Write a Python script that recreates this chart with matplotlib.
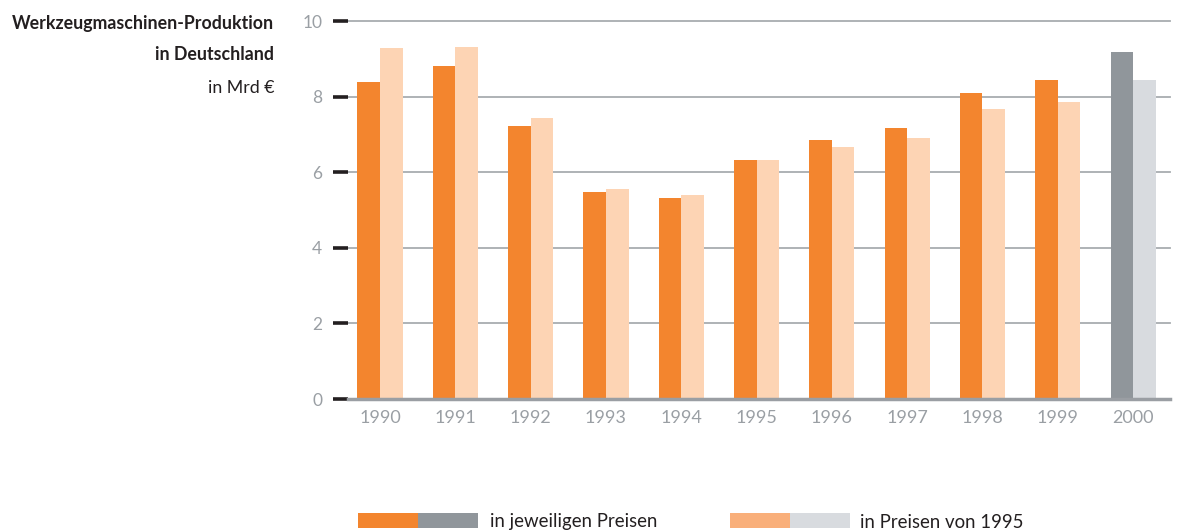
import matplotlib
matplotlib.use("Agg")
import matplotlib.pyplot as plt
from matplotlib.patches import Rectangle
import numpy as np

years = ["1990", "1991", "1992", "1993", "1994", "1995", "1996", "1997", "1998", "1999", "2000"]
current_prices = [8.39, 8.81, 7.22, 5.48, 5.32, 6.32, 6.85, 7.17, 8.10, 8.44, 9.18]
prices_1995 = [9.29, 9.31, 7.43, 5.56, 5.40, 6.32, 6.67, 6.90, 7.67, 7.86, 8.44]
y_ticks = [0, 2, 4, 6, 8, 10]

ORANGE = "#f3852e"
LIGHT_ORANGE = "#fdd4b4"
GRAY = "#90969b"
LIGHT_GRAY = "#d8dbdf"
LEG_LIGHT_ORANGE = "#f9af7a"
TEXT = "#231f20"
TICK_GRAY = "#9a9fa4"

plt.rcParams['font.family'] = ['Lato', 'DejaVu Sans']

W, H = 1182, 530
fig = plt.figure(figsize=(W / 100, H / 100), dpi=100)
ax = fig.add_axes([348 / W, 1 - 399 / H, (1170 - 348) / W, (399 - 21) / H])

x = np.arange(len(years))
bw = 0.30
c1 = [ORANGE] * (len(years) - 1) + [GRAY]
c2 = [LIGHT_ORANGE] * (len(years) - 1) + [LIGHT_GRAY]
ax.bar(x - bw / 2, current_prices, width=bw, color=c1, zorder=3)
ax.bar(x + bw / 2, prices_1995, width=bw, color=c2, zorder=3)

ax.set_xlim(-0.425, 10.49)
ax.set_ylim(0, 10)

for t in y_ticks[1:]:
    ax.axhline(t, color="#a8acb0", lw=1.3, zorder=1, clip_on=False)
ax.axhline(0, color="#9a9ea3", lw=2.5, zorder=4, clip_on=False)

for s in ax.spines.values():
    s.set_visible(False)

ax.set_yticks(y_ticks)
ax.set_yticklabels([str(t) for t in y_ticks])
ax.tick_params(axis='y', length=10.5, width=2.6, color=TEXT, pad=8,
               labelsize=12.5, labelcolor=TICK_GRAY)
ax.set_xticks(x)
ax.set_xticklabels(years)
ax.tick_params(axis='x', length=0, pad=8, labelsize=13, labelcolor=TICK_GRAY)

# Title block
fig.text(274 / W, 1 - 23 / H, "Werkzeugmaschinen-Produktion", ha="right", va="center",
         fontsize=12.8, fontweight="bold", color=TEXT)
fig.text(274 / W, 1 - 55 / H, "in Deutschland", ha="right", va="center",
         fontsize=12.8, fontweight="bold", color=TEXT)
fig.text(274 / W, 1 - 88 / H, "in Mrd €", ha="right", va="center",
         fontsize=12.8, color=TEXT)

# Legend
def leg_rect(x0, x1, color):
    fig.patches.append(Rectangle((x0 / W, 1 - 528 / H), (x1 - x0) / W, 15 / H,
                                 transform=fig.transFigure, color=color, lw=0))

leg_rect(358, 418, ORANGE)
leg_rect(418, 478, GRAY)
fig.text(490 / W, 1 - 522 / H, "in jeweiligen Preisen", ha="left", va="center",
         fontsize=13.4, color=TEXT)
leg_rect(730, 790, LEG_LIGHT_ORANGE)
leg_rect(790, 850, LIGHT_GRAY)
fig.text(860 / W, 1 - 522 / H, "in Preisen von 1995", ha="left", va="center",
         fontsize=13.4, color=TEXT)

fig.savefig("out.png", dpi=100)
